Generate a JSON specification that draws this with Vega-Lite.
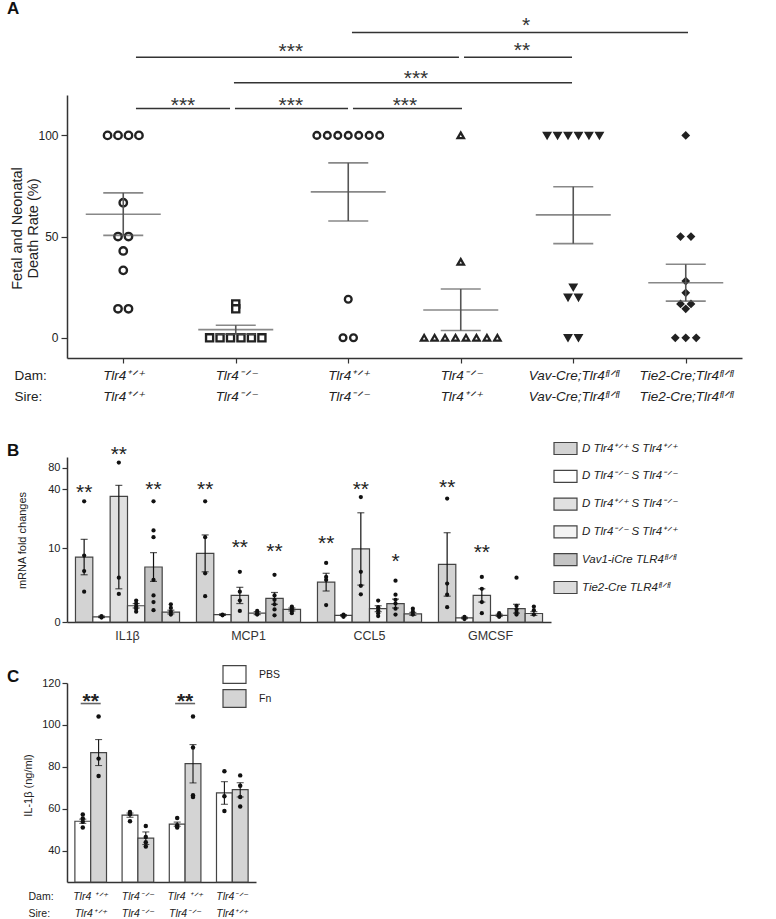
{
  "$schema": "https://vega.github.io/schema/vega-lite/v6.json",
  "background": "white",
  "padding": {"left": 7, "top": 0, "right": 10, "bottom": 0},
  "config": {
    "font": "Liberation Sans",
    "view": {"stroke": null},
    "axis": {"grid": false, "domainColor": "#333", "tickColor": "#333", "labelColor": "#222", "titleColor": "#222", "titleFontWeight": "normal", "domainWidth": 1.4, "tickWidth": 1.2},
    "title": {"fontSize": 17, "fontWeight": "bold", "color": "#111", "anchor": "start", "frame": "group", "dx": -60}
  },
  "columns": 1,
  "spacing": 33,
  "resolve": {"scale": {"x": "independent", "y": "independent", "fill": "independent", "xOffset": "independent"}, "legend": {"fill": "independent"}},
  "concat": [
    {
      "width": 675,
      "height": 344,
      "title": {"text": "A", "dy": 8},
      "layer": [
        {
          "data": {"values": [
            {"c":1,"v":100},{"c":1,"v":100},{"c":1,"v":100},{"c":1,"v":100},{"c":1,"v":66.7},{"c":1,"v":50},{"c":1,"v":50},{"c":1,"v":42.9},{"c":1,"v":33.3},{"c":1,"v":14.3},{"c":1,"v":14.3},
            {"c":2,"v":0},{"c":2,"v":0},{"c":2,"v":0},{"c":2,"v":0},{"c":2,"v":0},{"c":2,"v":0},{"c":2,"v":16.7},{"c":2,"v":14.3},
            {"c":3,"v":100},{"c":3,"v":100},{"c":3,"v":100},{"c":3,"v":100},{"c":3,"v":100},{"c":3,"v":100},{"c":3,"v":100},{"c":3,"v":19},{"c":3,"v":0},{"c":3,"v":0},
            {"c":4,"v":100},{"c":4,"v":37.5},{"c":4,"v":0},{"c":4,"v":0},{"c":4,"v":0},{"c":4,"v":0},{"c":4,"v":0},{"c":4,"v":0},{"c":4,"v":0},{"c":4,"v":0},
            {"c":5,"v":100},{"c":5,"v":100},{"c":5,"v":100},{"c":5,"v":100},{"c":5,"v":100},{"c":5,"v":100},{"c":5,"v":25},{"c":5,"v":20},{"c":5,"v":20},{"c":5,"v":0},{"c":5,"v":0},
            {"c":6,"v":100},{"c":6,"v":50},{"c":6,"v":50},{"c":6,"v":28},{"c":6,"v":22.2},{"c":6,"v":16.7},{"c":6,"v":16.7},{"c":6,"v":14.3},{"c":6,"v":0},{"c":6,"v":0},{"c":6,"v":0}
          ]},
          "transform": [
            {"window": [{"op": "row_number", "as": "k"}, {"op": "count", "as": "n"}], "groupby": ["c", "v"], "frame": [null, null]},
            {"calculate": "datum.c + (datum.k - (datum.n + 1) / 2) * 0.093", "as": "xp"}
          ],
          "mark": {"type": "point", "filled": true, "stroke": "#222", "opacity": 1},
          "encoding": {
            "x": {"field": "xp", "type": "quantitative",
              "scale": {"domain": [0.5, 6.5], "nice": false, "zero": false},
              "axis": {"values": [1,2,3,4,5,6],
                "labelExpr": "split(['Tlr4⁺ᐟ⁺|Tlr4⁺ᐟ⁺', 'Tlr4⁻ᐟ⁻|Tlr4⁻ᐟ⁻', 'Tlr4⁺ᐟ⁺|Tlr4⁻ᐟ⁻', 'Tlr4⁻ᐟ⁻|Tlr4⁺ᐟ⁺', 'Vav-Cre;Tlr4ᶠˡᐟᶠˡ|Vav-Cre;Tlr4ᶠˡᐟᶠˡ', 'Tie2-Cre;Tlr4ᶠˡᐟᶠˡ|Tie2-Cre;Tlr4ᶠˡᐟᶠˡ'][datum.value - 1], '|')",
                "labelFontStyle": "italic", "labelFontSize": 13.5, "labelLineHeight": 21, "labelBaseline": "top", "labelPadding": 5, "tickSize": 5, "labelFlush": false, "labelOverlap": false, "domainWidth": 1.5,
                "title": ["Dam:", "Sire:"], "titleFontSize": 13.5, "titleLineHeight": 21, "titleAngle": 0, "titleAlign": "left", "titleBaseline": "top", "titleX": -53, "titleY": 10}},
            "y": {"field": "v", "type": "quantitative",
              "scale": {"domain": [-10, 120], "range": [344, 80.9], "nice": false, "zero": false},
              "axis": {"values": [0, 50, 100], "tickSize": 6, "labelFontSize": 12, "labelPadding": 3, "domainWidth": 1.5,
                "title": ["Fetal and Neonatal", "Death Rate  (%)"], "titleFontSize": 14.5, "titleLineHeight": 16, "titleAngle": -90, "titleX": -50, "titleY": 214, "titleAlign": "center", "titleBaseline": "middle"}},
            "shape": {"field": "c", "type": "ordinal", "scale": {"domain": [1,2,3,4,5,6], "range": ["circle", "square", "circle", "triangle-up", "triangle-down", "diamond"]}, "legend": null},
            "fill": {"field": "c", "type": "ordinal", "scale": {"domain": [1,2,3,4,5,6], "range": ["#ffffff", "#ffffff", "#ffffff", "#ffffff", "#222222", "#222222"]}, "legend": null},
            "size": {"field": "c", "type": "ordinal", "scale": {"domain": [1,2,3,4,5,6], "range": [55, 32, 55, 42, 50, 58]}, "legend": null},
            "strokeWidth": {"field": "c", "type": "ordinal", "scale": {"domain": [1,2,3,4,5,6], "range": [2.4, 2.2, 2.4, 2.2, 0.8, 0.8]}, "legend": null}
          }
        },
        {
          "data": {"name": "asum", "values": [
            {"c":1,"m":61.0,"lo":50.6,"hi":71.6},{"c":2,"m":4.0,"lo":1.8,"hi":6.2},{"c":3,"m":72.1,"lo":57.7,"hi":86.4},
            {"c":4,"m":13.7,"lo":3.6,"hi":24.1},{"c":5,"m":60.7,"lo":46.5,"hi":74.6},{"c":6,"m":27.2,"lo":18.1,"hi":36.3}
          ]},
          "layer": [
            {"mark": {"type": "tick", "orient": "horizontal", "size": 75, "thickness": 1.6, "color": "#555"},
             "encoding": {"x": {"field": "c", "type": "quantitative"}, "y": {"field": "m", "type": "quantitative"}}},
            {"mark": {"type": "tick", "orient": "horizontal", "size": 40, "thickness": 1.6, "color": "#555"},
             "encoding": {"x": {"field": "c", "type": "quantitative"}, "y": {"field": "lo", "type": "quantitative"}}},
            {"mark": {"type": "tick", "orient": "horizontal", "size": 40, "thickness": 1.6, "color": "#555"},
             "encoding": {"x": {"field": "c", "type": "quantitative"}, "y": {"field": "hi", "type": "quantitative"}}},
            {"mark": {"type": "rule", "color": "#555", "strokeWidth": 1.6},
             "encoding": {"x": {"field": "c", "type": "quantitative"}, "y": {"field": "lo", "type": "quantitative"}, "y2": {"field": "hi"}}}
          ]
        },
        {
          "data": {"values": [
            {"x1":3.033,"x2":6.02,"y":150.8,"sx":4.58,"sy":156.5,"lab":"*"},
            {"x1":1.113,"x2":3.984,"y":138.6,"sx":2.49,"sy":143.5,"lab":"***"},
            {"x1":4.029,"x2":4.989,"y":138.6,"sx":4.544,"sy":144,"lab":"**"},
            {"x1":1.984,"x2":4.989,"y":126.0,"sx":3.602,"sy":130.2,"lab":"***"},
            {"x1":1.113,"x2":1.949,"y":113.3,"sx":1.531,"sy":116.8,"lab":"***"},
            {"x1":1.993,"x2":2.998,"y":113.3,"sx":2.49,"sy":116.8,"lab":"***"},
            {"x1":3.042,"x2":4.011,"y":113.3,"sx":3.504,"sy":116.8,"lab":"***"}
          ]},
          "layer": [
            {"mark": {"type": "rule", "color": "#333", "strokeWidth": 1.5},
             "encoding": {"x": {"field": "x1", "type": "quantitative"}, "x2": {"field": "x2"}, "y": {"field": "y", "type": "quantitative"}}},
            {"mark": {"type": "text", "fontSize": 21, "color": "#333", "baseline": "middle", "dy": 5},
             "encoding": {"x": {"field": "sx", "type": "quantitative"}, "y": {"field": "sy", "type": "quantitative"}, "text": {"field": "lab"}}}
          ]
        }
      ]
    },
    {
      "columns": 1,
      "spacing": 20,
      "resolve": {"scale": {"x": "independent", "y": "independent", "fill": "independent", "xOffset": "independent"}, "legend": {"fill": "independent"}},
      "concat": [
        {
          "width": 484,
          "height": 165,
          "title": {"text": "B", "dy": 28},
          "layer": [
            {
              "data": {"name": "bbars", "values": [
                {"gene":"IL1β","grp":"g1","m":8.8,"lo":6.4,"hi":11.2},
                {"gene":"IL1β","grp":"g2","m":0.7,"lo":0.6,"hi":0.8},
                {"gene":"IL1β","grp":"g3","m":27.0,"lo":4.5,"hi":47.4},
                {"gene":"IL1β","grp":"g4","m":2.2,"lo":1.9,"hi":2.5},
                {"gene":"IL1β","grp":"g5","m":7.45,"lo":5.5,"hi":9.4},
                {"gene":"IL1β","grp":"g6","m":1.35,"lo":1.1,"hi":1.6},
                {"gene":"MCP1","grp":"g1","m":9.3,"lo":6.8,"hi":11.8},
                {"gene":"MCP1","grp":"g2","m":1.0,"lo":0.9,"hi":1.1},
                {"gene":"MCP1","grp":"g3","m":3.6,"lo":2.5,"hi":4.7},
                {"gene":"MCP1","grp":"g4","m":1.2,"lo":1.0,"hi":1.4},
                {"gene":"MCP1","grp":"g5","m":3.2,"lo":2.4,"hi":4.0},
                {"gene":"MCP1","grp":"g6","m":1.7,"lo":1.5,"hi":1.9},
                {"gene":"CCL5","grp":"g1","m":5.4,"lo":4.2,"hi":6.6},
                {"gene":"CCL5","grp":"g2","m":0.9,"lo":0.8,"hi":1.0},
                {"gene":"CCL5","grp":"g3","m":9.9,"lo":5.0,"hi":14.8},
                {"gene":"CCL5","grp":"g4","m":1.8,"lo":1.4,"hi":2.2},
                {"gene":"CCL5","grp":"g5","m":2.5,"lo":1.9,"hi":3.1},
                {"gene":"CCL5","grp":"g6","m":1.1,"lo":0.9,"hi":1.3},
                {"gene":"GMCSF","grp":"g1","m":7.8,"lo":3.5,"hi":12.1},
                {"gene":"GMCSF","grp":"g2","m":0.55,"lo":0.45,"hi":0.65},
                {"gene":"GMCSF","grp":"g3","m":3.6,"lo":2.7,"hi":4.5},
                {"gene":"GMCSF","grp":"g4","m":0.9,"lo":0.75,"hi":1.05},
                {"gene":"GMCSF","grp":"g5","m":1.8,"lo":1.2,"hi":2.4},
                {"gene":"GMCSF","grp":"g6","m":1.15,"lo":0.9,"hi":1.4}
              ]},
              "mark": {"type": "bar", "stroke": "#444", "strokeWidth": 1.2},
              "encoding": {
                "x": {"field": "gene", "type": "nominal", "scale": {"domain": ["IL1β","MCP1","CCL5","GMCSF"], "paddingInner": 0.14, "paddingOuter": 0.07},
                  "axis": {"title": null, "labelAngle": 0, "ticks": false, "labelFontSize": 12.5, "labelPadding": 7, "labelColor": "#333", "domainWidth": 1.5}},
                "xOffset": {"field": "grp", "type": "nominal", "scale": {"domain": ["g1","g2","g3","g4","g5","g6"], "paddingInner": 0, "paddingOuter": 0}},
                "y": {"field": "m", "type": "quantitative", "stack": null,
                  "scale": {"domain": [0, 15, 16, 100], "range": [165, 54.3, 45.3, 0], "nice": false, "zero": false},
                  "axis": {"values": [0, 10, 40, 80], "labelOverlap": false, "tickSize": 5, "labelFontSize": 11, "labelPadding": 2, "domainWidth": 1.5,
                    "title": "mRNA fold changes", "titleFontSize": 11, "titleX": -45, "titleY": 83, "titleAngle": -90, "titleAlign": "center", "titleBaseline": "middle"}},
                "fill": {"field": "grp", "type": "nominal",
                  "scale": {"domain": ["g1","g2","g3","g4","g5","g6"], "range": ["#d3d3d3", "#ffffff", "#e0e0e0", "#f3f3f3", "#c4c4c4", "#dcdcdc"]},
                  "legend": {"orient": "none", "legendX": 486, "legendY": -21, "title": null,
                    "symbolType": "M-1,-0.52H1V0.52H-1Z", "symbolSize": 529, "symbolStrokeColor": "#444", "symbolStrokeWidth": 1.2, "symbolOpacity": 1,
                    "labelFontSize": 11.5, "labelFontStyle": "italic", "labelColor": "#222", "labelOffset": 4, "rowPadding": 6.8, "padding": 0, "labelLimit": 300,
                    "labelExpr": "['D Tlr4⁺ᐟ⁺  S Tlr4⁺ᐟ⁺', 'D Tlr4⁻ᐟ⁻   S Tlr4⁻ᐟ⁻', 'D Tlr4⁺ᐟ⁺  S Tlr4⁻ᐟ⁻', 'D Tlr4⁻ᐟ⁻   S Tlr4⁺ᐟ⁺', 'Vav1-iCre TLR4ᶠˡᐟᶠˡ', 'Tie2-Cre TLR4ᶠˡᐟᶠˡ'][indexof(['g1','g2','g3','g4','g5','g6'], datum.value)]"}}
              }
            },
            {
              "data": {"name": "bbars"},
              "layer": [
                {"mark": {"type": "rule", "color": "#111", "strokeWidth": 1.2},
                 "encoding": {"x": {"field": "gene", "type": "nominal"}, "xOffset": {"field": "grp", "type": "nominal"}, "y": {"field": "lo", "type": "quantitative"}, "y2": {"field": "hi"}}},
                {"mark": {"type": "tick", "orient": "horizontal", "size": 7, "thickness": 1.2, "color": "#111"},
                 "encoding": {"x": {"field": "gene", "type": "nominal"}, "xOffset": {"field": "grp", "type": "nominal"}, "y": {"field": "hi", "type": "quantitative"}}},
                {"mark": {"type": "tick", "orient": "horizontal", "size": 7, "thickness": 1.2, "color": "#111"},
                 "encoding": {"x": {"field": "gene", "type": "nominal"}, "xOffset": {"field": "grp", "type": "nominal"}, "y": {"field": "lo", "type": "quantitative"}}}
              ]
            },
            {
              "data": {"values": [
                {"gene":"IL1β","grp":"g1","v":17.9},{"gene":"IL1β","grp":"g1","v":9.0},{"gene":"IL1β","grp":"g1","v":6.9},{"gene":"IL1β","grp":"g1","v":4.1},
                {"gene":"IL1β","grp":"g2","v":0.8},{"gene":"IL1β","grp":"g2","v":0.6},
                {"gene":"IL1β","grp":"g3","v":89.6},{"gene":"IL1β","grp":"g3","v":6.0},{"gene":"IL1β","grp":"g3","v":3.8},
                {"gene":"IL1β","grp":"g4","v":2.9},{"gene":"IL1β","grp":"g4","v":2.5},{"gene":"IL1β","grp":"g4","v":2.1},{"gene":"IL1β","grp":"g4","v":1.8},{"gene":"IL1β","grp":"g4","v":1.4},
                {"gene":"IL1β","grp":"g5","v":17.9},{"gene":"IL1β","grp":"g5","v":12.4},{"gene":"IL1β","grp":"g5","v":11.5},{"gene":"IL1β","grp":"g5","v":5.7},{"gene":"IL1β","grp":"g5","v":3.6},{"gene":"IL1β","grp":"g5","v":2.7},{"gene":"IL1β","grp":"g5","v":1.6},
                {"gene":"IL1β","grp":"g6","v":2.4},{"gene":"IL1β","grp":"g6","v":1.9},{"gene":"IL1β","grp":"g6","v":1.4},{"gene":"IL1β","grp":"g6","v":1.0},
                {"gene":"MCP1","grp":"g1","v":17.9},{"gene":"MCP1","grp":"g1","v":11.5},{"gene":"MCP1","grp":"g1","v":6.6},{"gene":"MCP1","grp":"g1","v":3.5},
                {"gene":"MCP1","grp":"g2","v":1.0},{"gene":"MCP1","grp":"g2","v":0.9},
                {"gene":"MCP1","grp":"g3","v":6.8},{"gene":"MCP1","grp":"g3","v":4.1},{"gene":"MCP1","grp":"g3","v":2.9},{"gene":"MCP1","grp":"g3","v":1.5},
                {"gene":"MCP1","grp":"g4","v":1.5},{"gene":"MCP1","grp":"g4","v":1.2},{"gene":"MCP1","grp":"g4","v":1.0},
                {"gene":"MCP1","grp":"g5","v":6.4},{"gene":"MCP1","grp":"g5","v":3.6},{"gene":"MCP1","grp":"g5","v":3.0},{"gene":"MCP1","grp":"g5","v":2.4},{"gene":"MCP1","grp":"g5","v":1.7},{"gene":"MCP1","grp":"g5","v":0.9},
                {"gene":"MCP1","grp":"g6","v":2.1},{"gene":"MCP1","grp":"g6","v":1.8},{"gene":"MCP1","grp":"g6","v":1.5},{"gene":"MCP1","grp":"g6","v":1.2},
                {"gene":"CCL5","grp":"g1","v":8.0},{"gene":"CCL5","grp":"g1","v":6.1},{"gene":"CCL5","grp":"g1","v":5.7},{"gene":"CCL5","grp":"g1","v":2.3},
                {"gene":"CCL5","grp":"g2","v":1.0},{"gene":"CCL5","grp":"g2","v":0.8},{"gene":"CCL5","grp":"g2","v":0.7},
                {"gene":"CCL5","grp":"g3","v":25.8},{"gene":"CCL5","grp":"g3","v":6.8},{"gene":"CCL5","grp":"g3","v":4.9},{"gene":"CCL5","grp":"g3","v":3.75},
                {"gene":"CCL5","grp":"g4","v":2.9},{"gene":"CCL5","grp":"g4","v":2.0},{"gene":"CCL5","grp":"g4","v":1.6},{"gene":"CCL5","grp":"g4","v":1.2},{"gene":"CCL5","grp":"g4","v":0.8},
                {"gene":"CCL5","grp":"g5","v":5.6},{"gene":"CCL5","grp":"g5","v":3.7},{"gene":"CCL5","grp":"g5","v":3.0},{"gene":"CCL5","grp":"g5","v":2.5},{"gene":"CCL5","grp":"g5","v":1.8},{"gene":"CCL5","grp":"g5","v":1.0},
                {"gene":"CCL5","grp":"g6","v":1.8},{"gene":"CCL5","grp":"g6","v":1.4},{"gene":"CCL5","grp":"g6","v":1.0},
                {"gene":"GMCSF","grp":"g1","v":22.9},{"gene":"GMCSF","grp":"g1","v":5.2},{"gene":"GMCSF","grp":"g1","v":3.7},{"gene":"GMCSF","grp":"g1","v":2.0},
                {"gene":"GMCSF","grp":"g2","v":0.7},{"gene":"GMCSF","grp":"g2","v":0.4},
                {"gene":"GMCSF","grp":"g3","v":6.1},{"gene":"GMCSF","grp":"g3","v":4.5},{"gene":"GMCSF","grp":"g3","v":2.7},{"gene":"GMCSF","grp":"g3","v":1.2},
                {"gene":"GMCSF","grp":"g4","v":1.2},{"gene":"GMCSF","grp":"g4","v":0.9},{"gene":"GMCSF","grp":"g4","v":0.7},
                {"gene":"GMCSF","grp":"g5","v":6.0},{"gene":"GMCSF","grp":"g5","v":2.2},{"gene":"GMCSF","grp":"g5","v":1.7},{"gene":"GMCSF","grp":"g5","v":1.3},{"gene":"GMCSF","grp":"g5","v":1.0},
                {"gene":"GMCSF","grp":"g6","v":2.1},{"gene":"GMCSF","grp":"g6","v":1.6},{"gene":"GMCSF","grp":"g6","v":1.0}
              ]},
              "mark": {"type": "point", "filled": true, "size": 18, "color": "#111", "opacity": 1},
              "encoding": {"x": {"field": "gene", "type": "nominal"}, "xOffset": {"field": "grp", "type": "nominal"}, "y": {"field": "v", "type": "quantitative"}}
            },
            {
              "data": {"values": [
                {"gene":"IL1β","grp":"g1","sy":44.4,"lab":"**"},
                {"gene":"IL1β","grp":"g3","sy":115.6,"lab":"**"},
                {"gene":"IL1β","grp":"g5","sy":50.7,"lab":"**"},
                {"gene":"MCP1","grp":"g1","sy":50.7,"lab":"**"},
                {"gene":"MCP1","grp":"g3","sy":10.8,"lab":"**"},
                {"gene":"MCP1","grp":"g5","sy":10.3,"lab":"**"},
                {"gene":"CCL5","grp":"g1","sy":11.4,"lab":"**"},
                {"gene":"CCL5","grp":"g3","sy":50.7,"lab":"**"},
                {"gene":"CCL5","grp":"g5","sy":9.0,"lab":"*"},
                {"gene":"GMCSF","grp":"g1","sy":53.6,"lab":"**"},
                {"gene":"GMCSF","grp":"g3","sy":10.1,"lab":"**"}
              ]},
              "mark": {"type": "text", "fontSize": 21, "color": "#222", "baseline": "middle", "dy": 6},
              "encoding": {"x": {"field": "gene", "type": "nominal"}, "xOffset": {"field": "grp", "type": "nominal"}, "y": {"field": "sy", "type": "quantitative"}, "text": {"field": "lab"}}
            }
          ]
        },
        {
          "width": 189,
          "height": 199,
          "title": {"text": "C", "dy": 28},
          "layer": [
            {
              "data": {"name": "cbars", "values": [
                {"g":"Tlr4 ⁺ᐟ⁺|Tlr4⁺ᐟ⁺","t":"PBS","m":54.0,"lo":53.0,"hi":55.0},
                {"g":"Tlr4 ⁺ᐟ⁺|Tlr4⁺ᐟ⁺","t":"Fn","m":86.8,"lo":80.6,"hi":93.0},
                {"g":"Tlr4⁻ᐟ⁻|Tlr4⁻ᐟ⁻","t":"PBS","m":56.9,"lo":55.9,"hi":57.9},
                {"g":"Tlr4⁻ᐟ⁻|Tlr4⁻ᐟ⁻","t":"Fn","m":45.9,"lo":42.9,"hi":48.9},
                {"g":"Tlr4 ⁺ᐟ⁺|Tlr4⁻ᐟ⁻","t":"PBS","m":52.6,"lo":51.6,"hi":53.6},
                {"g":"Tlr4 ⁺ᐟ⁺|Tlr4⁻ᐟ⁻","t":"Fn","m":81.5,"lo":72.3,"hi":90.6},
                {"g":"Tlr4⁻ᐟ⁻|Tlr4⁺ᐟ⁺","t":"PBS","m":67.5,"lo":62.1,"hi":72.9},
                {"g":"Tlr4⁻ᐟ⁻|Tlr4⁺ᐟ⁺","t":"Fn","m":69.1,"lo":65.6,"hi":72.4}
              ]},
              "mark": {"type": "bar", "stroke": "#444", "strokeWidth": 1.2},
              "encoding": {
                "x": {"field": "g", "type": "nominal", "scale": {"domain": ["Tlr4 ⁺ᐟ⁺|Tlr4⁺ᐟ⁺", "Tlr4⁻ᐟ⁻|Tlr4⁻ᐟ⁻", "Tlr4 ⁺ᐟ⁺|Tlr4⁻ᐟ⁻", "Tlr4⁻ᐟ⁻|Tlr4⁺ᐟ⁺"], "paddingInner": 0.33, "paddingOuter": 0.167},
                  "axis": {"labelExpr": "split(datum.label, '|')", "labelAngle": 0, "labelFontStyle": "italic", "labelFontSize": 10.5, "labelLineHeight": 17, "labelBaseline": "top", "labelPadding": 9, "ticks": false, "domainWidth": 1.5,
                    "title": ["Dam:", "Sire:"], "titleFontSize": 10.5, "titleLineHeight": 17, "titleAngle": 0, "titleAlign": "left", "titleBaseline": "top", "titleX": -39, "titleY": 9}},
                "xOffset": {"field": "t", "type": "nominal", "scale": {"domain": ["PBS", "Fn"], "paddingInner": 0, "paddingOuter": 0}},
                "y": {"field": "m", "type": "quantitative", "stack": null,
                  "scale": {"domain": [25, 120], "nice": false, "zero": false, "clamp": true},
                  "axis": {"values": [40, 60, 80, 100, 120], "tickSize": 5, "labelFontSize": 11, "labelPadding": 2, "domainWidth": 1.5,
                    "title": "IL-1β  (ng/ml)", "titleFontSize": 11, "titleX": -39, "titleY": 102, "titleAngle": -90, "titleAlign": "center", "titleBaseline": "middle"}},
                "fill": {"field": "t", "type": "nominal", "scale": {"domain": ["PBS", "Fn"], "range": ["#ffffff", "#d4d4d4"]},
                  "legend": {"orient": "none", "legendX": 155, "legendY": -21, "title": null,
                    "symbolType": "M-1,-0.78H1V0.78H-1Z", "symbolSize": 529, "symbolStrokeColor": "#444", "symbolStrokeWidth": 1.2, "symbolOpacity": 1,
                    "labelFontSize": 10.5, "labelColor": "#222", "labelOffset": 12, "rowPadding": 0, "padding": 0}}
              }
            },
            {
              "data": {"name": "cbars"},
              "layer": [
                {"mark": {"type": "rule", "color": "#111", "strokeWidth": 1.1},
                 "encoding": {"x": {"field": "g", "type": "nominal"}, "xOffset": {"field": "t", "type": "nominal"}, "y": {"field": "lo", "type": "quantitative"}, "y2": {"field": "hi"}}},
                {"mark": {"type": "tick", "orient": "horizontal", "size": 7, "thickness": 1.1, "color": "#111"},
                 "encoding": {"x": {"field": "g", "type": "nominal"}, "xOffset": {"field": "t", "type": "nominal"}, "y": {"field": "hi", "type": "quantitative"}}},
                {"mark": {"type": "tick", "orient": "horizontal", "size": 7, "thickness": 1.1, "color": "#111"},
                 "encoding": {"x": {"field": "g", "type": "nominal"}, "xOffset": {"field": "t", "type": "nominal"}, "y": {"field": "lo", "type": "quantitative"}}}
              ]
            },
            {
              "data": {"values": [
                {"g":"Tlr4 ⁺ᐟ⁺|Tlr4⁺ᐟ⁺","t":"PBS","v":57.2},{"g":"Tlr4 ⁺ᐟ⁺|Tlr4⁺ᐟ⁺","t":"PBS","v":55.3},{"g":"Tlr4 ⁺ᐟ⁺|Tlr4⁺ᐟ⁺","t":"PBS","v":53.8},{"g":"Tlr4 ⁺ᐟ⁺|Tlr4⁺ᐟ⁺","t":"PBS","v":51.0},
                {"g":"Tlr4 ⁺ᐟ⁺|Tlr4⁺ᐟ⁺","t":"Fn","v":104},{"g":"Tlr4 ⁺ᐟ⁺|Tlr4⁺ᐟ⁺","t":"Fn","v":83.9},{"g":"Tlr4 ⁺ᐟ⁺|Tlr4⁺ᐟ⁺","t":"Fn","v":75.6},
                {"g":"Tlr4⁻ᐟ⁻|Tlr4⁻ᐟ⁻","t":"PBS","v":58.4},{"g":"Tlr4⁻ᐟ⁻|Tlr4⁻ᐟ⁻","t":"PBS","v":57.3},{"g":"Tlr4⁻ᐟ⁻|Tlr4⁻ᐟ⁻","t":"PBS","v":54.0},
                {"g":"Tlr4⁻ᐟ⁻|Tlr4⁻ᐟ⁻","t":"Fn","v":51.7},{"g":"Tlr4⁻ᐟ⁻|Tlr4⁻ᐟ⁻","t":"Fn","v":46.5},{"g":"Tlr4⁻ᐟ⁻|Tlr4⁻ᐟ⁻","t":"Fn","v":44.0},{"g":"Tlr4⁻ᐟ⁻|Tlr4⁻ᐟ⁻","t":"Fn","v":42.0},
                {"g":"Tlr4 ⁺ᐟ⁺|Tlr4⁻ᐟ⁻","t":"PBS","v":55.6},{"g":"Tlr4 ⁺ᐟ⁺|Tlr4⁻ᐟ⁻","t":"PBS","v":52.1},{"g":"Tlr4 ⁺ᐟ⁺|Tlr4⁻ᐟ⁻","t":"PBS","v":51.0},
                {"g":"Tlr4 ⁺ᐟ⁺|Tlr4⁻ᐟ⁻","t":"Fn","v":104},{"g":"Tlr4 ⁺ᐟ⁺|Tlr4⁻ᐟ⁻","t":"Fn","v":89.2},{"g":"Tlr4 ⁺ᐟ⁺|Tlr4⁻ᐟ⁻","t":"Fn","v":66.4},{"g":"Tlr4 ⁺ᐟ⁺|Tlr4⁻ᐟ⁻","t":"Fn","v":65.6},
                {"g":"Tlr4⁻ᐟ⁻|Tlr4⁺ᐟ⁺","t":"PBS","v":77.9},{"g":"Tlr4⁻ᐟ⁻|Tlr4⁺ᐟ⁺","t":"PBS","v":65.9},{"g":"Tlr4⁻ᐟ⁻|Tlr4⁺ᐟ⁺","t":"PBS","v":58.9},
                {"g":"Tlr4⁻ᐟ⁻|Tlr4⁺ᐟ⁺","t":"Fn","v":75.9},{"g":"Tlr4⁻ᐟ⁻|Tlr4⁺ᐟ⁺","t":"Fn","v":71.0},{"g":"Tlr4⁻ᐟ⁻|Tlr4⁺ᐟ⁺","t":"Fn","v":65.6},{"g":"Tlr4⁻ᐟ⁻|Tlr4⁺ᐟ⁺","t":"Fn","v":61.0}
              ]},
              "mark": {"type": "point", "filled": true, "size": 20, "color": "#111", "opacity": 1},
              "encoding": {"x": {"field": "g", "type": "nominal"}, "xOffset": {"field": "t", "type": "nominal"}, "y": {"field": "v", "type": "quantitative"}}
            },
            {
              "data": {"values": [
                {"g":"Tlr4 ⁺ᐟ⁺|Tlr4⁺ᐟ⁺","y":110.2,"sy":113.7,"lab":"**"},
                {"g":"Tlr4 ⁺ᐟ⁺|Tlr4⁻ᐟ⁻","y":110.2,"sy":113.7,"lab":"**"}
              ]},
              "layer": [
                {"mark": {"type": "tick", "orient": "horizontal", "size": 20, "thickness": 1.6, "color": "#222"},
                 "encoding": {"x": {"field": "g", "type": "nominal"}, "y": {"field": "y", "type": "quantitative"}}},
                {"mark": {"type": "text", "fontSize": 21, "fontWeight": "bold", "color": "#222", "baseline": "middle", "dy": 6},
                 "encoding": {"x": {"field": "g", "type": "nominal"}, "y": {"field": "sy", "type": "quantitative"}, "text": {"field": "lab"}}}
              ]
            }
          ]
        }
      ]
    }
  ]
}
